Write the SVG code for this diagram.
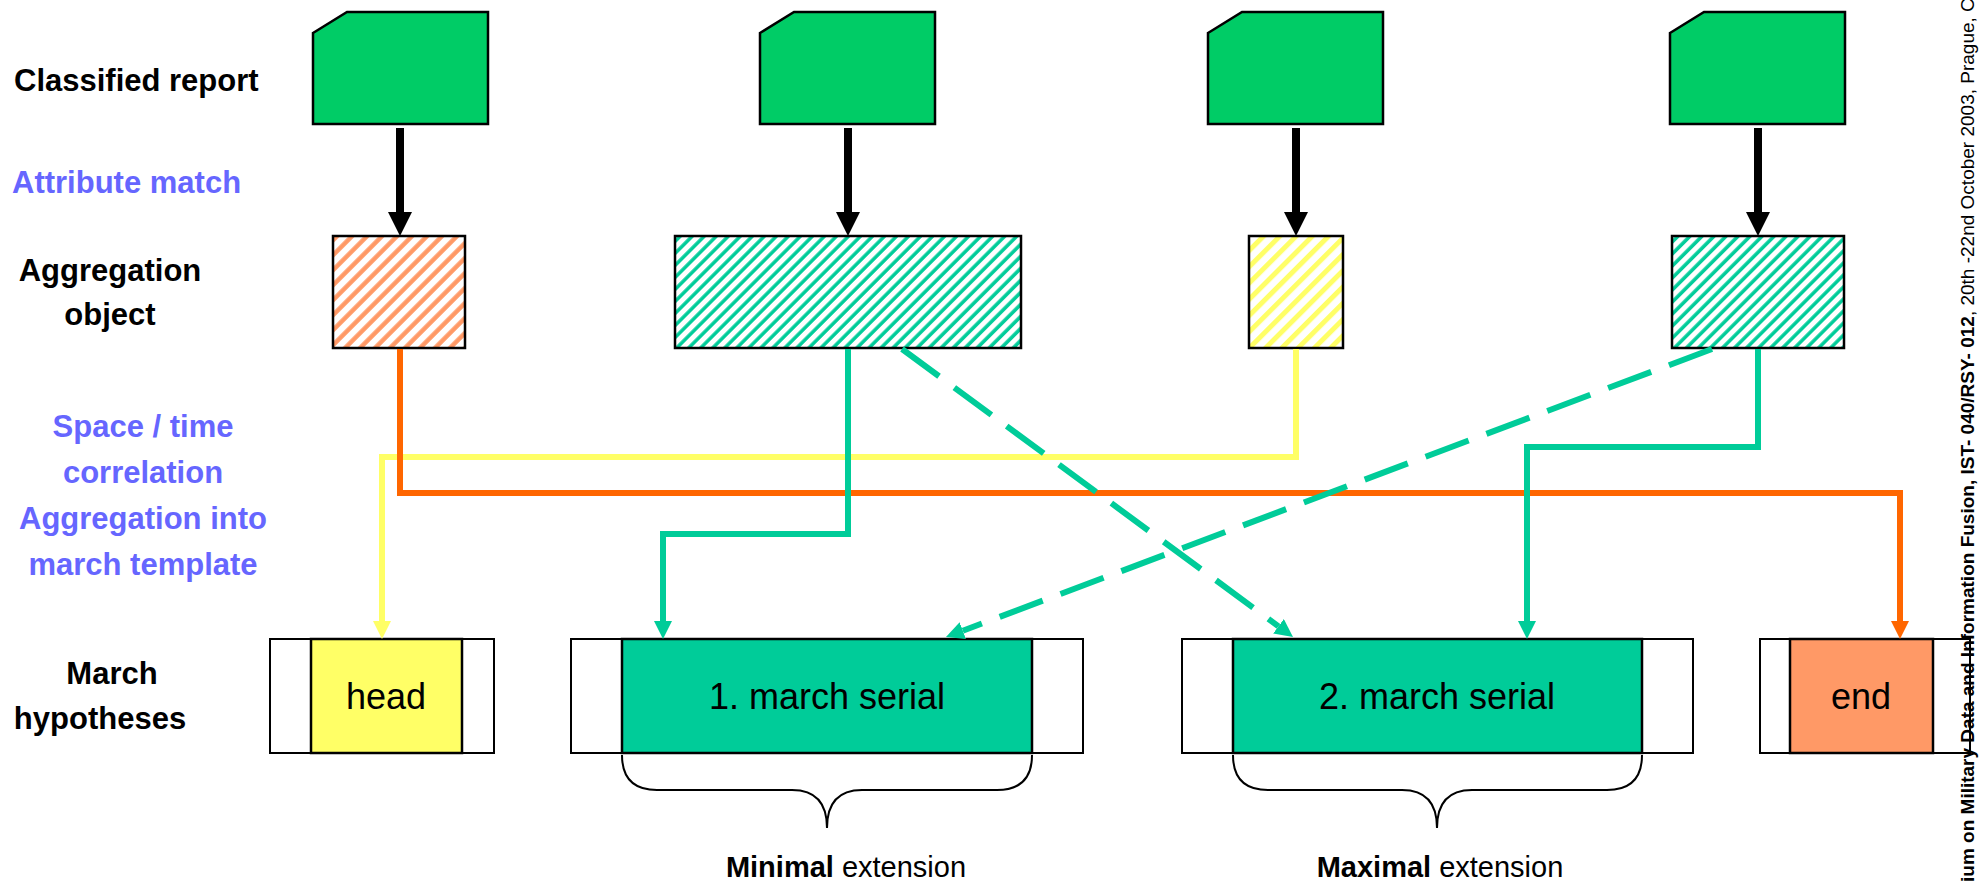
<svg xmlns="http://www.w3.org/2000/svg" width="1983" height="883" viewBox="0 0 1983 883">
<defs>
<style>
.lbl{font-family:"Liberation Sans",Arial,sans-serif;font-weight:bold;font-size:31px}
.blk{fill:#000}
.blu{fill:#6666FF}
.mid{text-anchor:middle}
.doc{fill:#00CC66;stroke:#000;stroke-width:2.5}
.agg{stroke:#000;stroke-width:2.5}
.outer{fill:#fff;stroke:#000;stroke-width:2}
.inner{stroke:#000;stroke-width:2.5}
.btxt{font-family:"Liberation Sans",Arial,sans-serif;font-size:36px;fill:#000;text-anchor:middle}
.ext{font-family:"Liberation Sans",Arial,sans-serif;font-size:29px;fill:#000;text-anchor:middle}
.conn{fill:none;stroke-width:6}
.brace{fill:none;stroke:#000;stroke-width:2}
.side{font-family:"Liberation Sans",Arial,sans-serif;font-size:19px;fill:#000}
</style>
<pattern id="hOrange" width="10.6" height="10.6" patternUnits="userSpaceOnUse" patternTransform="rotate(45)">
<rect width="10.6" height="10.6" fill="#fff"/>
<line x1="2.5" y1="0" x2="2.5" y2="10.6" stroke="#FF9966" stroke-width="4.5"/>
</pattern>
<pattern id="hGreen" width="8.5" height="8.5" patternUnits="userSpaceOnUse" patternTransform="rotate(45)">
<rect width="8.5" height="8.5" fill="#fff"/>
<line x1="2" y1="0" x2="2" y2="8.5" stroke="#00CC99" stroke-width="3.5"/>
</pattern>
<pattern id="hYellow" width="11.5" height="11.5" patternUnits="userSpaceOnUse" patternTransform="rotate(45)">
<rect width="11.5" height="11.5" fill="#fff"/>
<line x1="2.5" y1="0" x2="2.5" y2="11.5" stroke="#FFFF66" stroke-width="5"/>
</pattern>
<marker id="aBlack" markerUnits="userSpaceOnUse" markerWidth="24" markerHeight="24" viewBox="0 0 24 24" refX="0" refY="12" orient="auto"><path d="M0,0 L24,12 L0,24 z" fill="#000"/></marker>
<marker id="aGreen" markerUnits="userSpaceOnUse" markerWidth="18" markerHeight="18" viewBox="0 0 18 18" refX="0" refY="9" orient="auto"><path d="M0,0 L18,9 L0,18 z" fill="#00CC99"/></marker>
<marker id="aYellow" markerUnits="userSpaceOnUse" markerWidth="18" markerHeight="18" viewBox="0 0 18 18" refX="0" refY="9" orient="auto"><path d="M0,0 L18,9 L0,18 z" fill="#FFFF66"/></marker>
<marker id="aOrange" markerUnits="userSpaceOnUse" markerWidth="18" markerHeight="18" viewBox="0 0 18 18" refX="0" refY="9" orient="auto"><path d="M0,0 L18,9 L0,18 z" fill="#FF6600"/></marker>
</defs>
<rect width="1983" height="883" fill="#fff"/>

<g id="labels">
<text class="lbl blk" x="14" y="91">Classified report</text>
<text class="lbl blu" x="12" y="193">Attribute match</text>
<text class="lbl blk mid" x="110" y="281">Aggregation</text>
<text class="lbl blk mid" x="110" y="325">object</text>
<text class="lbl blu mid" x="143" y="437">Space / time</text>
<text class="lbl blu mid" x="143" y="483">correlation</text>
<text class="lbl blu mid" x="143" y="529">Aggregation into</text>
<text class="lbl blu mid" x="143" y="575">march template</text>
<text class="lbl blk mid" x="112" y="684">March</text>
<text class="lbl blk mid" x="100" y="729">hypotheses</text>
</g>

<g id="report1"><polygon class="doc" points="313,33 347,12 488,12 488,124 313,124"/></g>
<g id="report2"><polygon class="doc" points="760,33 794,12 935,12 935,124 760,124"/></g>
<g id="report3"><polygon class="doc" points="1208,33 1242,12 1383,12 1383,124 1208,124"/></g>
<g id="report4"><polygon class="doc" points="1670,33 1704,12 1845,12 1845,124 1670,124"/></g>

<g id="agg1"><rect class="agg" x="333" y="236" width="132" height="112" fill="url(#hOrange)"/></g>
<g id="agg2"><rect class="agg" x="675" y="236" width="346" height="112" fill="url(#hGreen)"/></g>
<g id="agg3"><rect class="agg" x="1249" y="236" width="94" height="112" fill="url(#hYellow)"/></g>
<g id="agg4"><rect class="agg" x="1672" y="236" width="172" height="112" fill="url(#hGreen)"/></g>

<g id="hyp-head">
<rect class="outer" x="270" y="639" width="224" height="114"/>
<rect class="inner" x="311" y="639" width="151" height="114" fill="#FFFF66"/>
<text class="btxt" x="386" y="709">head</text>
</g>
<g id="hyp-serial1">
<rect class="outer" x="571" y="639" width="512" height="114"/>
<rect class="inner" x="622" y="639" width="410" height="114" fill="#00CC99"/>
<text class="btxt" x="827" y="709">1. march serial</text>
</g>
<g id="hyp-serial2">
<rect class="outer" x="1182" y="639" width="511" height="114"/>
<rect class="inner" x="1233" y="639" width="409" height="114" fill="#00CC99"/>
<text class="btxt" x="1437" y="709">2. march serial</text>
</g>
<g id="hyp-end">
<rect class="outer" x="1760" y="639" width="210" height="114"/>
<rect class="inner" x="1790" y="639" width="143" height="114" fill="#FF9966"/>
<text class="btxt" x="1861" y="709">end</text>
</g>

<g id="braces">
<path class="brace" d="M622,755 Q622,790 657,790 L792,790 Q827,790 827,828 Q827,790 862,790 L997,790 Q1032,790 1032,755"/>
<path class="brace" d="M1233,755 Q1233,790 1268,790 L1402,790 Q1437,790 1437,828 Q1437,790 1472,790 L1607,790 Q1642,790 1642,755"/>
</g>

<g id="extension-labels">
<text class="ext" x="846" y="877"><tspan font-weight="bold">Minimal</tspan> extension</text>
<text class="ext" x="1440" y="877"><tspan font-weight="bold">Maximal</tspan> extension</text>
</g>

<g id="connectors">
<path d="M400,128 V212" stroke="#000" stroke-width="8" fill="none" marker-end="url(#aBlack)"/>
<path d="M848,128 V212" stroke="#000" stroke-width="8" fill="none" marker-end="url(#aBlack)"/>
<path d="M1296,128 V212" stroke="#000" stroke-width="8" fill="none" marker-end="url(#aBlack)"/>
<path d="M1758,128 V212" stroke="#000" stroke-width="8" fill="none" marker-end="url(#aBlack)"/>

<path class="conn" stroke="#FFFF66" d="M1296,349 V457 H382 V621" marker-end="url(#aYellow)"/>
<path class="conn" stroke="#FF6600" d="M400,349 V493 H1900 V621" marker-end="url(#aOrange)"/>
<path class="conn" stroke="#00CC99" d="M848,349 V534 H663 V621" marker-end="url(#aGreen)"/>
<path class="conn" stroke="#00CC99" d="M1758,349 V447 H1527 V621" marker-end="url(#aGreen)"/>
<path class="conn" stroke="#00CC99" stroke-dasharray="46 19" d="M902,349 L1278.5,626.3" marker-end="url(#aGreen)"/>
<path class="conn" stroke="#00CC99" stroke-dasharray="46 19" d="M1712,349 L962.8,630.7" marker-end="url(#aGreen)"/>
</g>

<g id="footer">
<text class="side" transform="translate(1974,882) rotate(-90)"><tspan font-weight="bold">ium on Military Data and Information Fusion, IST- 040/RSY- 012</tspan>, 20th -22nd October 2003, Prague, CZ</text>
</g>
</svg>
